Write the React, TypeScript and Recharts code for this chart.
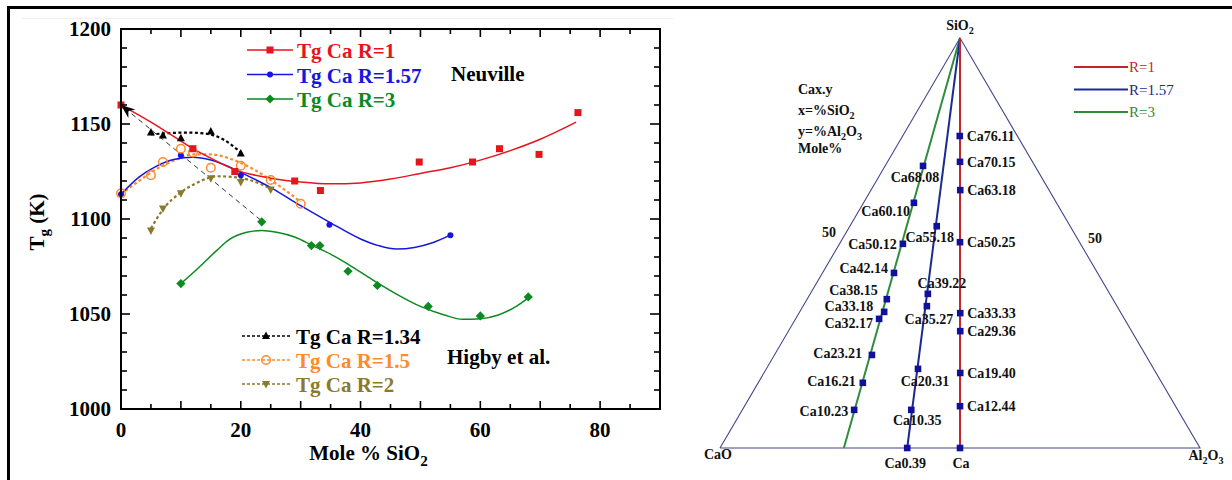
import React from 'react';
import { ComposedChart, Line, Scatter, XAxis, YAxis, Customized } from 'recharts';

const SERIF = '"Liberation Serif", "Times New Roman", Times, serif';

const RED = '#e8141c';
const BLUE = '#1616e0';
const GREEN = '#0b8a1f';
const BLACK = '#000000';
const ORANGE = '#ff8a2b';
const OLIVE = '#8a7a2c';

// ---------- left panel: Tg vs mole % SiO2 ----------
const xTickValues = [0, 5, 10, 15, 20, 25, 30, 35, 40, 45, 50, 55, 60, 65, 70, 75, 80, 85, 90];
const yTickValues = [
  1000, 1010, 1020, 1030, 1040, 1050, 1060, 1070, 1080, 1090, 1100,
  1110, 1120, 1130, 1140, 1150, 1160, 1170, 1180, 1190, 1200,
];

// Neuville, measured
const r1X = [0, 12, 19, 29, 33.3, 49.8, 58.7, 63.2, 69.8, 76.3];
const r1Tg = [1160, 1137, 1125, 1120, 1115, 1130, 1130, 1137, 1134, 1156];
const r157X = [0, 10, 20, 34.8, 55];
const r157Tg = [1113, 1133.5, 1123, 1097, 1091.5];
const r3X = [10, 23.5, 31.8, 33.2, 37.9, 42.8, 51.3, 60, 68];
const r3Tg = [1066, 1098.5, 1086, 1086, 1072.5, 1065, 1054, 1049, 1059];

// Neuville, fitted curves
const r1FitX = [0, 5, 10, 12, 15, 19, 25, 30, 35, 40, 45, 50, 55, 60, 65, 70, 76];
const r1FitTg = [1160, 1151, 1141, 1137, 1132, 1126, 1121.5, 1119.5, 1118.5, 1119, 1121, 1124, 1127, 1131, 1136, 1142, 1151];
const r157FitX = [0, 3, 6, 9, 12, 15, 18, 20, 25, 30, 35, 40, 43, 46, 49, 52, 55];
const r157FitTg = [1113, 1122, 1128, 1131.5, 1132.5, 1131, 1127.5, 1124.5, 1116.5, 1107, 1098, 1089.5, 1086, 1084.2, 1085, 1087.5, 1091.5];
const r3FitX = [10, 13, 16, 18, 21, 23.5, 26, 29, 32, 35, 38, 42, 46, 50, 54, 57, 60, 63, 66, 68];
const r3FitTg = [1066, 1074.5, 1083.5, 1089, 1093, 1094, 1093, 1090.5, 1086, 1081.5, 1076, 1068, 1060.5, 1054, 1049.5, 1047.2, 1047.5, 1049.5, 1054, 1058.5];

// Higby et al.
const h134X = [5, 7, 10, 15, 20];
const h134Tg = [1145.5, 1144, 1142.5, 1146, 1134.5];
const h134FitX = [5, 8, 11, 14, 17, 20];
const h134FitTg = [1144.5, 1145.2, 1145.5, 1145, 1142, 1135];
const h15X = [0, 5, 7, 10, 12, 15, 20, 25, 30];
const h15Tg = [1113.5, 1123, 1130, 1137, 1135, 1127, 1128, 1120.5, 1108];
const h15FitX = [0, 3, 6, 9, 12, 15, 18, 20, 22.5, 25, 27.5, 30];
const h15FitTg = [1113, 1120, 1126.5, 1131, 1134, 1134, 1132, 1129.5, 1125.5, 1120.5, 1115, 1109];
const h2X = [5, 7, 10, 15, 20, 25];
const h2Tg = [1094, 1105.5, 1113.5, 1121.5, 1119.5, 1115.5];
const h2FitX = [5, 7, 10, 13, 16, 19, 22, 25];
const h2FitTg = [1095, 1105, 1114, 1119.5, 1122.5, 1122, 1120, 1116];

// dashed guide back to the pure aluminate
const guideX = [23.3, 0];
const guideTg = [1099.5, 1160];

const pts = (xs: number[], ys: number[]) => xs.map((x, i) => ({ x, y: ys[i] }));

const neuvilleLegend = [
  { name: 'Tg Ca R=1', color: RED, kind: 'square' },
  { name: 'Tg Ca R=1.57', color: BLUE, kind: 'dot' },
  { name: 'Tg Ca R=3', color: GREEN, kind: 'diamond' },
];
const higbyLegend = [
  { name: 'Tg Ca R=1.34', color: BLACK, kind: 'up' },
  { name: 'Tg Ca R=1.5', color: ORANGE, kind: 'ring' },
  { name: 'Tg Ca R=2', color: OLIVE, kind: 'down' },
];

// ---------- right panel: CaO - SiO2 - Al2O3 ternary (mole %) ----------
const r1Names = ['Ca76.11', 'Ca70.15', 'Ca63.18', 'Ca50.25', 'Ca33.33', 'Ca29.36', 'Ca19.40', 'Ca12.44', 'Ca'];
const r1SiO2 = [76.1, 69.8, 62.9, 50.2, 32.9, 28.5, 18.3, 10.2, 0];
const r1Al2O3 = [11.9, 15.1, 18.6, 24.9, 33.6, 35.8, 40.9, 44.9, 50];

const r157Names = ['Ca55.18', 'Ca39.22', 'Ca35.27', 'Ca20.31', 'Ca10.35', 'Ca0.39'];
const r157SiO2 = [54.1, 37.6, 34.6, 19.3, 9.3, 0];
const r157Al2O3 = [18.1, 24.5, 25.8, 31.6, 35.2, 39];

const r3Names = ['Ca68.08', 'Ca60.10', 'Ca50.12', 'Ca42.14', 'Ca38.15', 'Ca33.18', 'Ca32.17', 'Ca23.21', 'Ca16.21', 'Ca10.23'];
const r3SiO2 = [68.8, 59.8, 49.8, 42.7, 36.3, 33.2, 31.5, 22.7, 15.9, 9.3];
const r3Al2O3 = [7.9, 10.5, 13.2, 14.9, 16.6, 17.6, 17.4, 20.3, 21.8, 23.3];

const cornerNames = ['CaO', 'SiO2', 'Al2O3', '50', '50'];
const cornerSiO2 = [0, 100, 0, 50, 50];
const cornerAl2O3 = [0, 0, 100, 0, 50];

// R = CaO/Al2O3 join lines: from SiO2 apex to the binary CaO-Al2O3 edge
const joinNames = ['R=1', 'R=1.57', 'R=3'];
const joinBaseAl2O3 = [50, 39, 25.8];

const toTernary = (sio2: number, al2o3: number) => ({ x: (al2o3 + sio2 / 2) / 100, y: sio2 / 100 });
const ternaryRows = (names: string[], si: number[], al: number[]) =>
  names.map((name, i) => ({ name, ...toTernary(si[i], al[i]) }));

const sampleRows = [
  ...ternaryRows(r1Names, r1SiO2, r1Al2O3),
  ...ternaryRows(r157Names, r157SiO2, r157Al2O3),
  ...ternaryRows(r3Names, r3SiO2, r3Al2O3),
];
const cornerRows = cornerNames.map((name, i) => ({ name, idx: i, ...toTernary(cornerSiO2[i], cornerAl2O3[i]) }));
const triangleRows = [0, 1, 2, 0].map((i) => toTernary(cornerSiO2[i], cornerAl2O3[i]));
const joinRows = joinBaseAl2O3.map((al) => [toTernary(100, 0), toTernary(0, al)]);

const T_R1 = '#c1262d';
const T_R157 = '#1d2a8f';
const T_R3 = '#2e8d3d';
const T_EDGE = '#45458c';
const T_SQUARE = '#10109c';

// label placement around each sample square: dx, dy, anchor
const labelPlacement: Record<string, [number, number, 'start' | 'middle' | 'end']> = {
  'Ca76.11': [7, 0, 'start'],
  'Ca70.15': [7, 0, 'start'],
  'Ca63.18': [7, 0, 'start'],
  'Ca50.25': [7, 0, 'start'],
  'Ca33.33': [7, 0, 'start'],
  'Ca29.36': [7, 0, 'start'],
  'Ca19.40': [7, 0, 'start'],
  'Ca12.44': [7, 0, 'start'],
  Ca: [1, 15, 'middle'],
  'Ca55.18': [-7, 11, 'middle'],
  'Ca39.22': [14, -11, 'middle'],
  'Ca35.27': [2, 13, 'middle'],
  'Ca20.31': [7, 12, 'middle'],
  'Ca10.35': [6, 10, 'middle'],
  'Ca0.39': [-2, 15, 'middle'],
  'Ca68.08': [-8, 11, 'middle'],
  'Ca60.10': [-4, 8, 'end'],
  'Ca50.12': [-6, 0, 'end'],
  'Ca42.14': [-6, -5, 'end'],
  'Ca38.15': [-9, -9, 'end'],
  'Ca33.18': [-11, -6, 'end'],
  'Ca32.17': [-6, 4, 'end'],
  'Ca23.21': [-10, -2, 'end'],
  'Ca16.21': [-7, -2, 'end'],
  'Ca10.23': [-6, 1, 'end'],
};
const cornerOffsets = [[-2, 11], [0, -8], [6, 12], [-11, -6], [15, 0]];

// ---------- layout of the Tg panel ----------
const TG_W = 700;
const TG_H = 480;
const Y_AXIS_W = 121;
const X_AXIS_H = 60;
const PLOT_TOP = 29;
const PLOT_RIGHT = 660;
const PLOT_LEFT = Y_AXIS_W;
const PLOT_BOTTOM = TG_H - 11 - X_AXIS_H;

// ---------- helpers ----------
function chemSpans(text: string, drop: number) {
  const segs = text.split(/(\d+)/);
  let lowered = false;
  return segs.map((seg, i) => {
    if (!seg) return null;
    const sub = i % 2 === 1 && /[A-Za-z]$/.test(segs[i - 1]);
    const dy = sub === lowered ? 0 : sub ? drop : -drop;
    lowered = sub;
    return (
      <tspan key={i} dy={dy} fontSize={sub ? '0.72em' : undefined}>
        {seg}
      </tspan>
    );
  });
}

function Marker({ kind, cx, cy, color }: { kind: string; cx: number; cy: number; color: string }) {
  switch (kind) {
    case 'square':
      return <rect x={cx - 3.5} y={cy - 3.5} width={7} height={7} fill={color} />;
    case 'dot':
      return <circle cx={cx} cy={cy} r={3} fill={color} />;
    case 'diamond':
      return <path d={`M${cx} ${cy - 4.6}L${cx + 4.6} ${cy}L${cx} ${cy + 4.6}L${cx - 4.6} ${cy}Z`} fill={color} />;
    case 'up':
      return <path d={`M${cx} ${cy - 4.5}L${cx + 4} ${cy + 3}L${cx - 4} ${cy + 3}Z`} fill={color} />;
    case 'down':
      return <path d={`M${cx} ${cy + 4.5}L${cx + 4} ${cy - 3}L${cx - 4} ${cy - 3}Z`} fill={color} />;
    case 'ring':
      return <circle cx={cx} cy={cy} r={4.3} fill="none" stroke={color} strokeWidth={1.5} />;
    default:
      return null;
  }
}
const shapeOf = (kind: string, color: string) => (p: any) => (
  <Marker kind={kind} cx={p.cx} cy={p.cy} color={color} />
);

const tickText = { fontFamily: SERIF, fontWeight: 700, fontSize: 21, fill: '#000' } as const;

// left ticks carry their mirror on the right edge of the frame
function LeftTick({ x, y, payload }: any) {
  const v = Number(payload.value);
  const major = v % 50 === 0;
  return (
    <g>
      <path d={`M${x} ${y}H${x + (major ? 9 : 6)}`} stroke="#000" strokeWidth={1.6} />
      <path d={`M${PLOT_RIGHT} ${y}H${PLOT_RIGHT - (major ? 10 : 6)}`} stroke="#000" strokeWidth={1.6} />
      {major && (
        <text x={x - 10} y={y} dy="0.34em" textAnchor="end" {...tickText}>
          {v}
        </text>
      )}
    </g>
  );
}
// bottom ticks carry their mirror on the top edge of the frame
function BottomTick({ x, y, payload }: any) {
  const v = Number(payload.value);
  const len = v % 10 === 0 ? 8 : 5;
  return (
    <g>
      <path d={`M${x} ${y}V${y - len}`} stroke="#000" strokeWidth={1.6} />
      <path d={`M${x} ${PLOT_TOP}V${PLOT_TOP + len}`} stroke="#000" strokeWidth={1.6} />
      {v % 20 === 0 && (
        <text x={x} y={y + 28} textAnchor="middle" {...tickText}>
          {v}
        </text>
      )}
    </g>
  );
}

const ARROW_ANGLE = -140.8;
function ArrowHead({ cx, cy }: any) {
  return (
    <path
      d="M0 0L-14 -5.5L-9.5 0L-14 5.5Z"
      transform={`translate(${cx},${cy}) rotate(${ARROW_ANGLE})`}
      fill="#000"
    />
  );
}

function TgNotes() {
  return (
    <g fontFamily={SERIF} fontWeight={700} fontSize={21}>
      {neuvilleLegend.map((it, i) => {
        const y = 50 + i * 24.5;
        return (
          <g key={it.name}>
            <line x1={247} x2={293} y1={y} y2={y} stroke={it.color} strokeWidth={1.5} />
            <Marker kind={it.kind} cx={270} cy={y} color={it.color} />
            <text x={297} y={y + 8} fill={it.color}>
              {it.name}
            </text>
          </g>
        );
      })}
      <text x={451} y={81} fill="#000">
        Neuville
      </text>
      {higbyLegend.map((it, i) => {
        const y = 336 + i * 24;
        return (
          <g key={it.name}>
            <line x1={242} x2={290} y1={y} y2={y} stroke={it.color} strokeWidth={1.6} strokeDasharray="3 2" />
            <Marker kind={it.kind} cx={266} cy={y} color={it.color} />
            <text x={296} y={y + 7.5} fill={it.color}>
              {it.name}
            </text>
          </g>
        );
      })}
      <text x={447} y={364} fill="#000">
        Higby et al.
      </text>
    </g>
  );
}

function YLabel(p: any) {
  const vb = p.viewBox;
  const cx = vb.x + 37;
  const cy = vb.y + vb.height / 2 + 3;
  return (
    <text
      x={cx}
      y={cy}
      transform={`rotate(-90 ${cx} ${cy})`}
      textAnchor="middle"
      dy="0.34em"
      fontFamily={SERIF}
      fontWeight={700}
      fontSize={21}
      fill="#000"
    >
      T
      <tspan dy={5} fontSize={15}>
        g
      </tspan>
      <tspan dy={-5}> (K)</tspan>
    </text>
  );
}
function XLabel(p: any) {
  const vb = p.viewBox;
  return (
    <text
      x={vb.x + vb.width / 2 - 22}
      y={vb.y + 51}
      textAnchor="middle"
      fontFamily={SERIF}
      fontWeight={700}
      fontSize={21}
      fill="#000"
    >
      {chemSpans('Mole % SiO2', 6)}
    </text>
  );
}

const axisStroke = { stroke: '#000', strokeWidth: 2 };

function TgChart() {
  const solid = (data: any[], color: string) => (
    <Line data={data} dataKey="y" type="monotone" stroke={color} strokeWidth={1.5} dot={false} activeDot={false} isAnimationActive={false} />
  );
  const dotted = (data: any[], color: string) => (
    <Line data={data} dataKey="y" type="monotone" stroke={color} strokeWidth={2.2} strokeDasharray="3 2.5" dot={false} activeDot={false} isAnimationActive={false} />
  );
  return (
    <ComposedChart width={TG_W} height={TG_H} margin={{ top: 29, right: 40, bottom: 11, left: 0 }}>
      <XAxis
        type="number"
        dataKey="x"
        domain={[0, 90]}
        ticks={xTickValues}
        interval={0}
        height={X_AXIS_H}
        tickSize={0}
        tickMargin={0}
        tickLine={false}
        axisLine={axisStroke}
        tick={BottomTick}
        label={{ content: XLabel }}
      />
      <YAxis
        type="number"
        dataKey="y"
        domain={[1000, 1200]}
        ticks={yTickValues}
        interval={0}
        width={Y_AXIS_W}
        tickSize={0}
        tickMargin={0}
        tickLine={false}
        axisLine={axisStroke}
        tick={LeftTick}
        label={{ content: YLabel }}
      />
      <Line data={pts(guideX, guideTg)} dataKey="y" stroke="#333" strokeWidth={1} strokeDasharray="5 4" dot={false} activeDot={false} isAnimationActive={false} />
      {dotted(pts(h134FitX, h134FitTg), BLACK)}
      {dotted(pts(h15FitX, h15FitTg), ORANGE)}
      {dotted(pts(h2FitX, h2FitTg), OLIVE)}
      {solid(pts(r3FitX, r3FitTg), GREEN)}
      {solid(pts(r157FitX, r157FitTg), BLUE)}
      {solid(pts(r1FitX, r1FitTg), RED)}
      <Scatter data={pts(h134X, h134Tg)} shape={shapeOf('up', BLACK)} isAnimationActive={false} />
      <Scatter data={pts(h2X, h2Tg)} shape={shapeOf('down', OLIVE)} isAnimationActive={false} />
      <Scatter data={pts(r157X, r157Tg)} shape={shapeOf('dot', BLUE)} isAnimationActive={false} />
      <Scatter data={pts(h15X, h15Tg)} shape={shapeOf('ring', ORANGE)} isAnimationActive={false} />
      <Scatter data={pts(r3X, r3Tg)} shape={shapeOf('diamond', GREEN)} isAnimationActive={false} />
      <Scatter data={pts(r1X, r1Tg)} shape={shapeOf('square', RED)} isAnimationActive={false} />
      <Scatter data={pts(guideX.slice(1), guideTg.slice(1))} shape={ArrowHead} isAnimationActive={false} />
      <Customized component={TgNotes} />
    </ComposedChart>
  );
}

// ---------- ternary ----------
const labelFont = { fontFamily: SERIF, fontWeight: 700, fontSize: 14, fill: '#111' } as const;

function SampleLabel(p: any) {
  const name = p.payload?.name as string;
  const [dx, dy, anchor] = labelPlacement[name] ?? [6, 0, 'start'];
  return (
    <text x={p.cx + dx} y={p.cy + dy} dy="0.34em" textAnchor={anchor} {...labelFont}>
      {name}
    </text>
  );
}
function SampleSquare(p: any) {
  return <rect x={p.cx - 3.3} y={p.cy - 3.3} width={6.6} height={6.6} fill={T_SQUARE} />;
}
function CornerLabel(p: any) {
  const { name, idx } = p.payload;
  const [dx, dy] = cornerOffsets[idx];
  return (
    <text x={p.cx + dx} y={p.cy + dy} dy="0.34em" textAnchor="middle" {...labelFont}>
      {chemSpans(name, 4)}
    </text>
  );
}

const joinColors = [T_R1, T_R157, T_R3];
const caxLines = ['Cax.y', 'x=%SiO2', 'y=%Al2O3', 'Mole%'];

function TernaryNotes() {
  return (
    <g fontFamily={SERIF}>
      {joinNames.map((name, i) => {
        const y = 67 + i * 22.5;
        return (
          <g key={name}>
            <line x1={394} x2={448} y1={y} y2={y} stroke={joinColors[i]} strokeWidth={2} />
            <text x={449} y={y} dy="0.34em" fontSize={15} fill={joinColors[i]}>
              {name}
            </text>
          </g>
        );
      })}
      <g fontWeight={700} fontSize={14} fill="#111">
        {caxLines.map((t, i) => (
          <text key={t} x={118} y={[94, 115, 136, 153][i]}>
            {chemSpans(t, 4)}
          </text>
        ))}
      </g>
    </g>
  );
}

function TernaryChart() {
  const join = (i: number) => (
    <Line data={joinRows[i]} dataKey="y" stroke={joinColors[i]} strokeWidth={2} dot={false} activeDot={false} isAnimationActive={false} />
  );
  return (
    <ComposedChart width={552} height={480} margin={{ top: 38, right: 32, bottom: 32, left: 40 }}>
      <XAxis type="number" dataKey="x" domain={[0, 1]} hide />
      <YAxis type="number" dataKey="y" domain={[0, 1]} hide />
      <Scatter data={sampleRows} shape={SampleLabel} isAnimationActive={false} />
      <Line data={triangleRows} dataKey="y" stroke={T_EDGE} strokeWidth={1.1} dot={false} activeDot={false} isAnimationActive={false} />
      {join(2)}
      {join(1)}
      <Scatter data={sampleRows} shape={SampleSquare} isAnimationActive={false} />
      {join(0)}
      <Scatter data={cornerRows} shape={CornerLabel} isAnimationActive={false} />
      <Customized component={TernaryNotes} />
    </ComposedChart>
  );
}

export default function App() {
  return (
    <div style={{ position: 'fixed', left: 0, top: 0, width: 1232, height: 480, background: '#fff', overflow: 'hidden' }}>
      <div style={{ position: 'absolute', left: 7, top: 6, width: 1225, height: 474, borderTop: '3px solid #000', borderLeft: '3px solid #000', boxSizing: 'border-box' }} />
      <div style={{ position: 'absolute', left: 22, top: 18, width: 651, height: 1, background: '#efefef' }} />
      <div style={{ position: 'absolute', left: 0, top: 0 }}>
        <TgChart />
      </div>
      <div style={{ position: 'absolute', left: 680, top: 0 }}>
        <TernaryChart />
      </div>
      {/* plot frame of the Tg panel */}
      <div
        style={{
          position: 'absolute',
          left: PLOT_LEFT - 1,
          top: PLOT_TOP - 1,
          width: PLOT_RIGHT - PLOT_LEFT + 2,
          height: PLOT_BOTTOM - PLOT_TOP + 2,
          border: '2px solid #000',
          boxSizing: 'border-box',
          pointerEvents: 'none',
        }}
      />
    </div>
  );
}
